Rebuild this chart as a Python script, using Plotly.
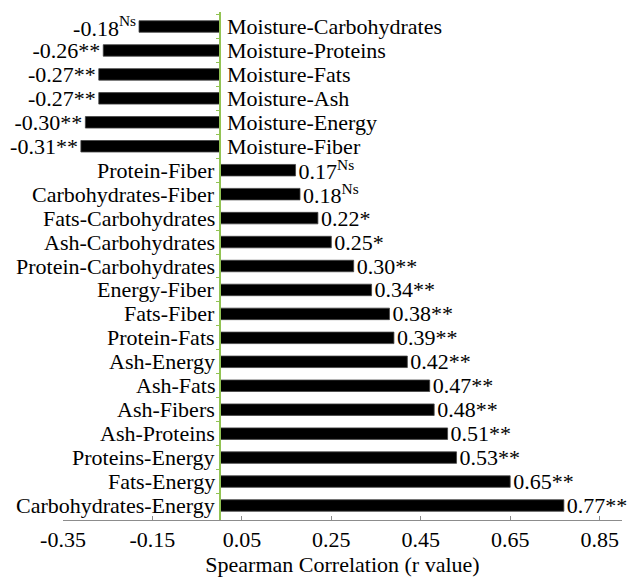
import plotly.graph_objects as go

categories = ["Moisture-Carbohydrates", "Moisture-Proteins", "Moisture-Fats", "Moisture-Ash",
              "Moisture-Energy", "Moisture-Fiber", "Protein-Fiber", "Carbohydrates-Fiber",
              "Fats-Carbohydrates", "Ash-Carbohydrates", "Protein-Carbohydrates", "Energy-Fiber",
              "Fats-Fiber", "Protein-Fats", "Ash-Energy", "Ash-Fats", "Ash-Fibers", "Ash-Proteins",
              "Proteins-Energy", "Fats-Energy", "Carbohydrates-Energy"]
r_values = [-0.18, -0.26, -0.27, -0.27, -0.30, -0.31, 0.17, 0.18, 0.22, 0.25, 0.30, 0.34,
            0.38, 0.39, 0.42, 0.47, 0.48, 0.51, 0.53, 0.65, 0.77]
significance = ["Ns", "**", "**", "**", "**", "**", "Ns", "Ns", "*", "*", "**", "**",
                "**", "**", "**", "**", "**", "**", "**", "**", "**"]
tick_values = [-0.35, -0.15, 0.05, 0.25, 0.45, 0.65, 0.85]
tick_labels = ["-0.35", "-0.15", "0.05", "0.25", "0.45", "0.65", "0.85"]

FONT = "Liberation Serif, Times New Roman, serif"
FS = 22

def fmt(v, s):
    num = f"{v:.2f}"
    if s == "Ns":
        return num + "<sup>Ns</sup>"
    return num + s

texts = [fmt(v, s) for v, s in zip(r_values, significance)]

fig = go.Figure(go.Bar(
    x=r_values, y=categories, orientation="h",
    marker=dict(color="black", line=dict(color="#444444", width=0.8)),
    width=0.48,
    text=texts, textposition="outside", constraintext="none", cliponaxis=False,
    textfont=dict(family=FONT, size=FS, color="black"),
))

annotations = []
for c, v in zip(categories, r_values):
    if v >= 0:
        annotations.append(dict(x=0, y=c, xref="x", yref="y", text=c, showarrow=False,
                                xanchor="right", xshift=-3,
                                font=dict(family=FONT, size=FS, color="black")))
    else:
        annotations.append(dict(x=0, y=c, xref="x", yref="y", text=c, showarrow=False,
                                xanchor="left", xshift=5,
                                font=dict(family=FONT, size=FS, color="black")))

fig.update_layout(
    width=635, height=577,
    margin=dict(l=63, r=13, t=12, b=57, autoexpand=False),
    paper_bgcolor="white", plot_bgcolor="white",
    showlegend=False,
    annotations=annotations,
    font=dict(family=FONT, size=FS, color="black"),
    xaxis=dict(
        range=[-0.35, 0.9], tickvals=tick_values, ticktext=tick_labels,
        showgrid=False, zeroline=False, automargin=False,
        showline=True, linecolor="#8c8c8c", linewidth=1,
        ticks="inside", ticklen=4, tickcolor="#8c8c8c",
        tickfont=dict(family=FONT, size=FS, color="black"),
        title=dict(text="Spearman Correlation (r value)",
                   font=dict(family=FONT, size=FS, color="black"), standoff=5),
    ),
    yaxis=dict(
        autorange="reversed", showticklabels=False, showgrid=False, zeroline=False,
        automargin=False,
        anchor="free", position=0.35 / 1.25,
        showline=True, linecolor="#92C353", linewidth=1.5,
        ticks="outside", ticklen=3, tickcolor="#92C353", tickson="boundaries",
    ),
)

fig.write_html("out.html", config={"displayModeBar": False},
               post_script="document.body.style.margin='0';")
